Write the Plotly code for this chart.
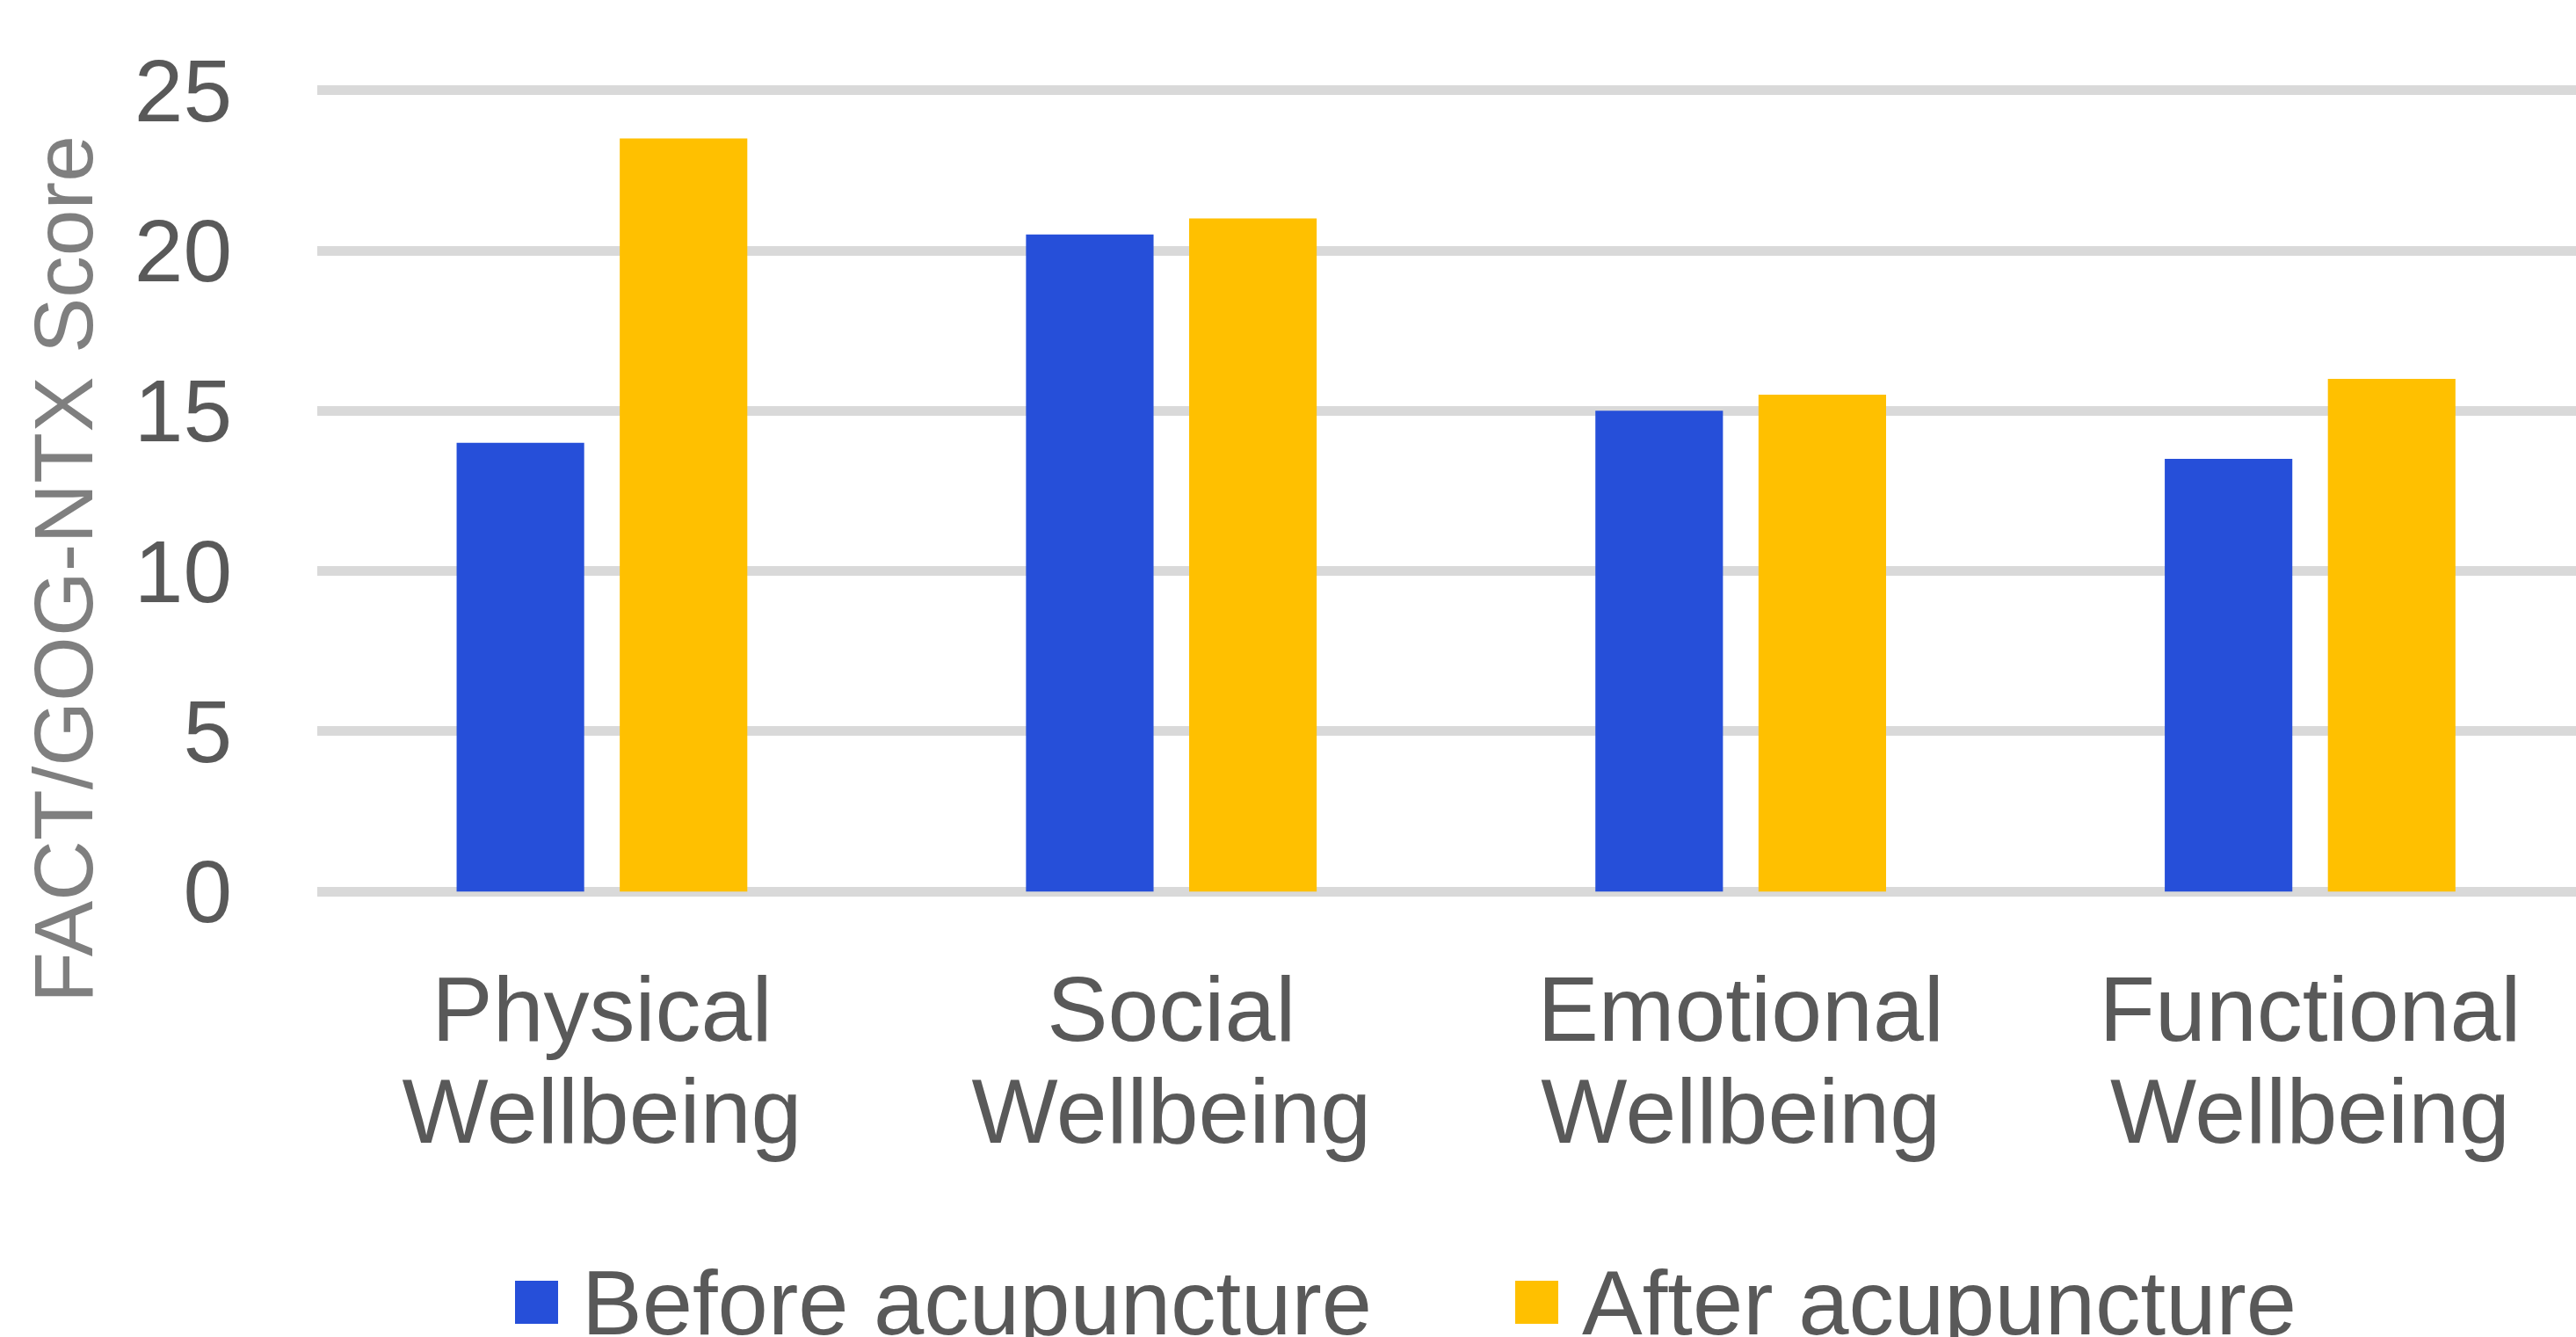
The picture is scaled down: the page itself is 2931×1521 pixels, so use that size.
import plotly.graph_objects as go

# ---------------- data ----------------
categories = ["Physical Wellbeing", "Social Wellbeing", "Emotional Wellbeing", "Functional Wellbeing"]
label_line1 = ["Physical", "Social", "Emotional", "Functional"]
label_line2 = ["Wellbeing", "Wellbeing", "Wellbeing", "Wellbeing"]
series_names = ["Before acupuncture", "After acupuncture"]
before_values = [14.0, 20.5, 15.0, 13.5]
after_values = [23.5, 21.0, 15.5, 16.0]
series_colors = ["#264FD9", "#FFC000"]
y_tick_values = [0, 5, 10, 15, 20, 25]
y_title = "FACT/GOG-NTX Score"

# ---------------- layout geometry ----------------
W, H = 2931, 1521
ML, MR, MT, MB = 361, 0, 90, 494
plot_w = W - ML - MR
plot_h = H - MT - MB


def px_x(px):
    return (px - ML) / plot_w


def px_y(py):
    return (H - MB - py) / plot_h


FONT = "Liberation Sans, Arial, sans-serif"
TXT = "#595959"

fig = go.Figure()
for name, vals, color in zip(series_names, [before_values, after_values], series_colors):
    fig.add_trace(go.Bar(
        x=categories, y=vals, name=name,
        marker=dict(color=color, line=dict(width=0)),
        showlegend=False,
    ))

# helper (empty) trace so the second tick-label axis is drawn
fig.add_trace(go.Scatter(x=[None], y=[None], xaxis="x2", yaxis="y",
                         showlegend=False, hoverinfo="skip"))

xr = [-0.5, 3.467]
fig.update_layout(
    template="none",
    width=W, height=H,
    margin=dict(l=ML, r=MR, t=MT, b=MB, pad=0, autoexpand=False),
    paper_bgcolor="white", plot_bgcolor="white",
    barmode="group", bargap=0.427, bargroupgap=0.218,
    font=dict(family=FONT, color=TXT),
    showlegend=False,
    xaxis=dict(
        type="category", range=xr, tickmode="array",
        tickvals=categories, ticktext=label_line1,
        tickfont=dict(family=FONT, size=104, color=TXT),
        ticks="outside", ticklen=31, tickcolor="rgba(0,0,0,0)",
        showgrid=False, zeroline=False, showline=False, automargin=False,
    ),
    xaxis2=dict(
        type="linear", overlaying="x", anchor="y", side="bottom", range=xr,
        tickmode="array", tickvals=list(range(len(categories))), ticktext=label_line2,
        tickfont=dict(family=FONT, size=104, color=TXT),
        ticks="outside", ticklen=147, tickcolor="rgba(0,0,0,0)",
        showgrid=False, zeroline=False, showline=False, automargin=False,
    ),
    yaxis=dict(
        range=[-0.35, 25.35], tickmode="array", tickvals=y_tick_values,
        tickfont=dict(family=FONT, size=100, color=TXT),
        ticks="outside", ticklen=76, tickcolor="rgba(0,0,0,0)",
        showgrid=True, gridcolor="#D9D9D9", gridwidth=11,
        zeroline=False, showline=False, automargin=False,
    ),
)

# y-axis title
fig.add_annotation(
    text=y_title, xref="paper", yref="paper",
    x=px_x(72), y=px_y(648), xanchor="center", yanchor="middle",
    textangle=-90, showarrow=False,
    font=dict(family=FONT, size=95, color="#7F7F7F"),
)

# legend (large square keys)
legend_square_left = [586, 1724]
for name, color, sx in zip(series_names, series_colors, legend_square_left):
    fig.add_shape(
        type="rect", xref="paper", yref="paper",
        x0=px_x(sx), x1=px_x(sx + 49), y0=px_y(1506), y1=px_y(1457),
        fillcolor=color, line=dict(width=0), layer="above",
    )
    fig.add_annotation(
        text=name, xref="paper", yref="paper",
        x=px_x(sx + 74), y=px_y(1482), xanchor="left", yanchor="middle",
        showarrow=False, font=dict(family=FONT, size=103, color=TXT),
    )

fig.write_html(
    "out.html",
    config={"displayModeBar": False},
    post_script="document.body.style.margin='0px';document.body.style.overflow='hidden';",
)
